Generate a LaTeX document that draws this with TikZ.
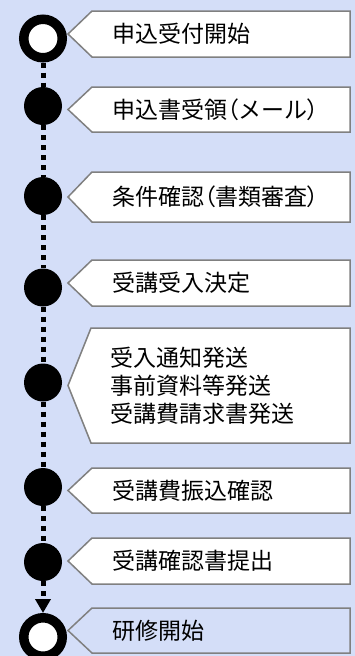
\documentclass[tikz,border=0pt]{standalone}
\usepackage{fontspec}
\newfontfamily\jp{Noto Sans CJK JP}
\newfontfamily\jpp[RawFeature=+palt]{Noto Sans CJK JP}
\usetikzlibrary{arrows.meta}
\definecolor{bgblue}{RGB}{212,222,248}
\definecolor{boxgray}{RGB}{128,128,128}
\newcommand{\lp}{{\jpp （}}
\newcommand{\rp}{{\jpp ）}}
\tikzset{
  dot/.style={circle,fill=black,inner sep=0pt,minimum size=38pt},
  ring/.style={circle,draw=black,fill=white,line width=9.5pt,inner sep=0pt,minimum size=38.5pt},
  dline/.style={line width=5pt,dash pattern=on 5pt off 5pt},
  callout/.style={draw=boxgray,line width=1.5pt,fill=white,line join=miter},
  lbl/.style={anchor=west,inner sep=0pt,font=\jp\fontsize{23}{28}\selectfont,align=left}
}
\begin{document}
\begin{tikzpicture}[x=1pt,y=-1pt]
\fill[bgblue] (0,0) rectangle (355,656);
\useasboundingbox (0,0) rectangle (355,656);
% callouts
\draw[callout] (68,34) -- (92,11) -- (350,11) -- (350,57) -- (92,57) -- cycle;
\draw[callout] (68,109.5) -- (92,87) -- (350,87) -- (350,132) -- (92,132) -- cycle;
\draw[callout] (68,197) -- (92,172) -- (350,172) -- (350,222) -- (92,222) -- cycle;
\draw[callout] (68,283) -- (92,260) -- (350,260) -- (350,306) -- (92,306) -- cycle;
\draw[callout] (68,385.5) -- (91,328) -- (350,328) -- (350,443) -- (91,443) -- cycle;
\draw[callout] (68,490.5) -- (92,468) -- (350,468) -- (350,513) -- (92,513) -- cycle;
\draw[callout] (68,561) -- (92,538) -- (350,538) -- (350,584) -- (92,584) -- cycle;
\draw[callout,fill=bgblue] (68,630.5) -- (92,608) -- (350,608) -- (350,653) -- (92,653) -- cycle;
% labels
\node[lbl] (t1) at (112,34) {申込受付開始};
\node[lbl] (t2) at (112,109.5) {申込書受領\lp メール\rp};
\node[lbl] (t3) at (112,197) {条件確認\lp 書類審査\rp};
\node[lbl] (t4) at (112,283) {受講受入決定};
\node[lbl] (t5) at (110,385.5) {受入通知発送\\事前資料等発送\\受講費請求書発送};
\node[lbl] (t6) at (112,490.5) {受講費振込確認};
\node[lbl] (t7) at (112,561) {受講確認書提出};
\node[lbl] (t8) at (112,630.5) {研修開始};
% milestones
\node[ring] (c1) at (43,38.5) {};
\node[dot] (c2) at (43,106) {};
\node[dot] (c3) at (43,196) {};
\node[dot] (c4) at (43,287.5) {};
\node[dot] (c5) at (43,382.5) {};
\node[dot] (c6) at (43,487) {};
\node[dot] (c7) at (43,562) {};
\node[ring] (c8) at (43,637) {};
% connectors
\draw[dline] (c1) -- (c2);
\draw[dline] (c2) -- (c3);
\draw[dline] (c3) -- (c4);
\draw[dline] (c4) -- (c5);
\draw[dline] (c5) -- (c6);
\draw[dline] (c6) -- (c7);
\draw[dline,-{Triangle[width=15pt,length=14pt]}] (c7) -- (c8);
\end{tikzpicture}
\end{document}
